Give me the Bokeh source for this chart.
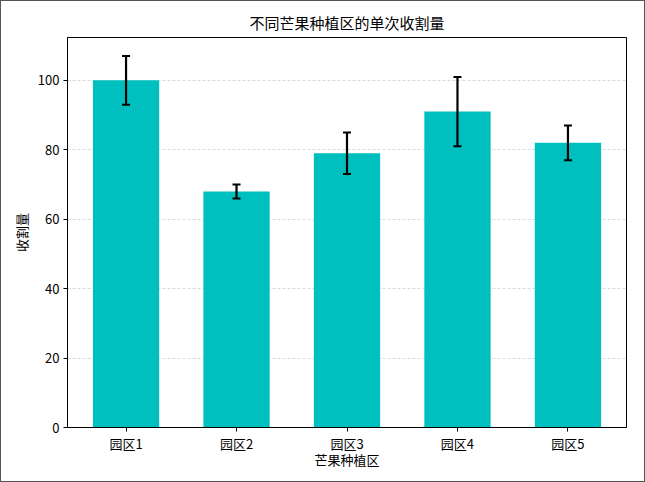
from bokeh.plotting import figure
from bokeh.models import ColumnDataSource, FactorRange, Range1d, FixedTicker, Whisker, TeeHead
from bokeh.embed import file_html
from bokeh.resources import INLINE

parks = ["园区1", "园区2", "园区3", "园区4", "园区5"]
yields = [100, 68, 79, 91, 82]
errors = [7, 2, 6, 10, 5]
y_ticks = [0, 20, 40, 60, 80, 100]

FONT = "Noto Sans CJK SC"

src = ColumnDataSource(dict(
    x=parks, y=yields,
    lower=[v - e for v, e in zip(yields, errors)],
    upper=[v + e for v, e in zip(yields, errors)],
))

p = figure(
    x_range=FactorRange(*parks, range_padding=0.012, range_padding_units="percent"),
    y_range=Range1d(0, 112.35),
    width=645, height=482,
    output_backend="svg", toolbar_location=None,
    min_border_left=66, min_border_right=20, min_border_top=36, min_border_bottom=56,
    title="不同芒果种植区的单次收割量",
    styles={"border": "1px solid #555555", "box-sizing": "border-box"},
)

p.vbar(x="x", top="y", width=0.6, source=src, fill_color="#00bfbf", line_color=None)
w = Whisker(base="x", lower="lower", upper="upper", source=src,
            line_color="black", line_width=2.2, level="overlay",
            upper_head=TeeHead(size=8, line_color="black", line_width=2),
            lower_head=TeeHead(size=8, line_color="black", line_width=2))
p.add_layout(w)

p.title.align = "center"
p.title.text_font = FONT
p.title.text_font_size = "15px"
p.title.text_font_style = "normal"
p.title.text_color = "black"

p.xaxis.axis_label = "芒果种植区"
p.yaxis.axis_label = "收割量"
p.yaxis.ticker = FixedTicker(ticks=y_ticks)
for ax in (p.xaxis[0], p.yaxis[0]):
    ax.axis_label_text_font = FONT
    ax.axis_label_text_font_size = "13px"
    ax.axis_label_text_font_style = "normal"
    ax.axis_label_text_color = "black"
    ax.major_label_text_font = FONT
    ax.major_label_text_font_size = "13px"
    ax.major_label_text_color = "black"
    ax.axis_line_color = "black"
    ax.major_tick_line_color = "black"
    ax.major_tick_out = 4
    ax.major_tick_in = 0
    ax.minor_tick_line_color = None
p.yaxis.major_label_standoff = 4
p.yaxis.axis_label_standoff = 4
p.xaxis.major_label_standoff = 2
p.xaxis.axis_label_standoff = -6

p.xgrid.grid_line_color = None
p.ygrid.grid_line_color = "#d0d0d0"
p.ygrid.grid_line_dash = "3 2"
p.ygrid.grid_line_width = 0.8

p.outline_line_color = "black"
p.outline_line_width = 1
p.outline_line_alpha = 1
p.background_fill_color = "white"
p.border_fill_color = "white"

open("out.html", "w").write(file_html(p, INLINE))
